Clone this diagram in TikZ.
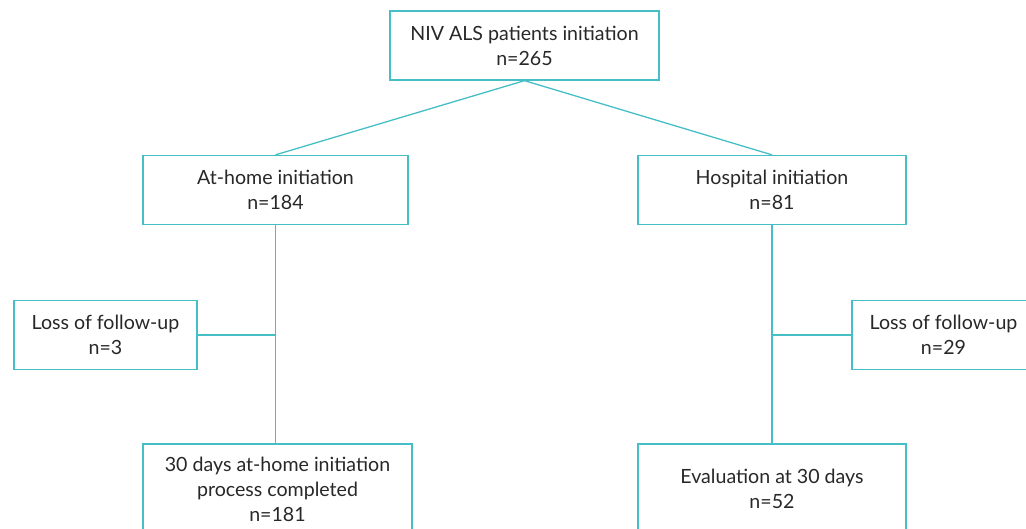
\documentclass[tikz,border=0pt]{standalone}
\usepackage{fontspec}
\setmainfont{Lato}
\usepackage{xcolor}
\usepackage{tikz}
\usetikzlibrary{positioning, calc}
\definecolor{Turquesa}{RGB}{70,190,198}
\definecolor{Texto}   {RGB}{40,40,40}

\begin{document}
\begin{tikzpicture}[x=1pt,y=1pt,
    caja/.style={draw=Turquesa,line width=1.3pt,fill=white,align=center,text=Texto,
      font=\fontsize{19.6}{25}\selectfont,inner sep=0pt,minimum height=69pt},
    enlace/.style={Turquesa,line width=1.3pt}]
  \useasboundingbox (0,0) rectangle (1026,-528);
  \clip (0,0) rectangle (1026,-528);
  \node[caja,minimum width=269pt] (inicio) at (524.5,-45.5) {NIV ALS patients initiation\\n=265};
  \node[caja,minimum width=265pt] (casa) at (275.5,-190) {At-home initiation\\n=184};
  \node[caja,minimum width=268pt] (hospital) at (772,-190) {Hospital initiation\\n=81};
  \node[caja,minimum width=183pt] (perdidaA) at (105.5,-335) {Loss of follow-up\\n=3};
  \node[caja,minimum width=183pt] (perdidaB) at (943.5,-335) {Loss of follow-up\\n=29};
  \node[caja,minimum width=269pt,minimum height=90pt] (finA) at (277.5,-489)
    {30 days at-home initiation\\process completed\\n=181};
  \node[caja,minimum width=268pt,minimum height=90pt] (finB) at (772,-489)
    {Evaluation at 30 days\\n=52};
  \draw[enlace] (inicio.south) -- (casa.north);
  \draw[enlace] (inicio.south) -- (hospital.north);
  \draw[enlace] (casa.south) -- (casa.south |- finA.north);
  \draw[enlace] (hospital.south) -- (finB.north);
  \draw[enlace] (perdidaA.east) -- (perdidaA.east -| casa.south);
  \draw[enlace] (perdidaB.west) -- (perdidaB.west -| hospital.south);
\end{tikzpicture}
\end{document}
